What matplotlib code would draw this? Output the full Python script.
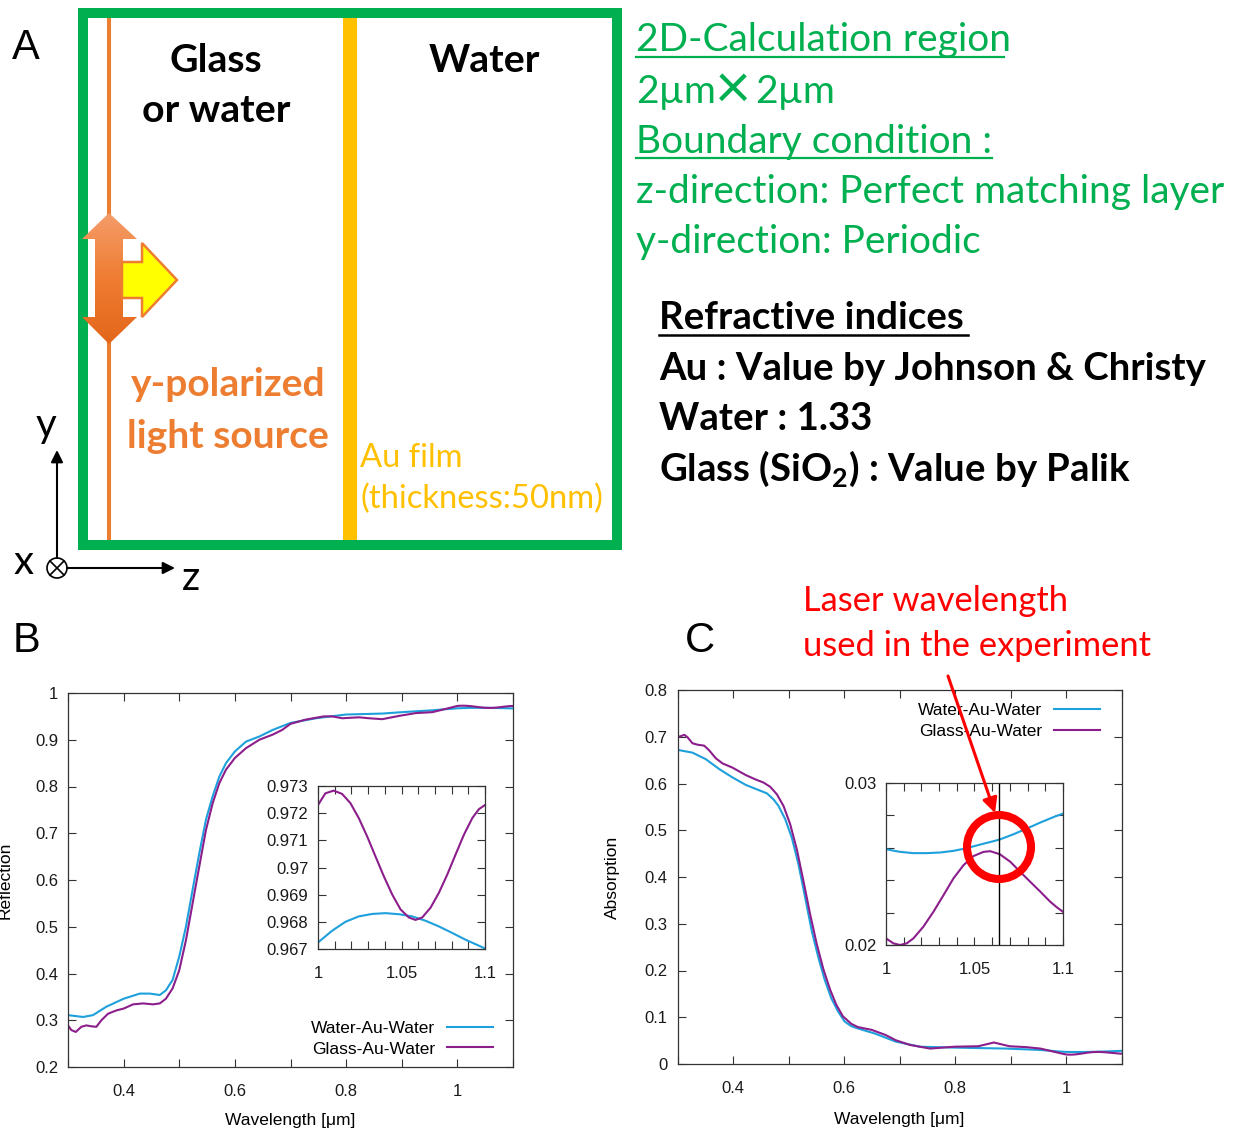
import numpy as np
import matplotlib
matplotlib.use('Agg')
import matplotlib.pyplot as plt
from matplotlib.patches import Rectangle, Polygon, Circle
from matplotlib.colors import LinearSegmentedColormap
from matplotlib.ticker import FixedLocator, MultipleLocator, FuncFormatter

plt.rcParams['font.family'] = ['Liberation Sans', 'DejaVu Sans']
plt.rcParams['mathtext.fontset'] = 'custom'
plt.rcParams['mathtext.rm'] = 'Lato'
plt.rcParams['mathtext.bf'] = 'Lato:bold'
plt.rcParams['lines.solid_joinstyle'] = 'round'

# ---- data ----
# B: reflection, main panel (0.3 - 1.0 um)
wl_refl_water = [0.3, 0.327, 0.345, 0.369, 0.4, 0.429, 0.447, 0.465, 0.476, 0.488, 0.5, 0.512,
                 0.524, 0.536, 0.548, 0.56, 0.572, 0.584, 0.6, 0.62, 0.644, 0.668, 0.7, 0.746,
                 0.8, 0.865, 0.9, 0.955, 0.98]
refl_water = [0.311, 0.307, 0.311, 0.329, 0.346, 0.357, 0.357, 0.354, 0.364, 0.386, 0.436, 0.5,
              0.579, 0.657, 0.729, 0.779, 0.821, 0.85, 0.875, 0.896, 0.907, 0.921, 0.936, 0.946,
              0.954, 0.956, 0.959, 0.963, 0.9655]
wl_refl_glass = [0.3, 0.306, 0.314, 0.324, 0.333, 0.342, 0.351, 0.36, 0.372, 0.387, 0.4, 0.417,
                 0.435, 0.453, 0.465, 0.476, 0.488, 0.5, 0.512, 0.524, 0.536, 0.548, 0.56, 0.572,
                 0.584, 0.6, 0.62, 0.644, 0.668, 0.685, 0.7, 0.727, 0.76, 0.775, 0.793, 0.823,
                 0.841, 0.865, 0.895, 0.925, 0.955, 0.979]
refl_glass = [0.289, 0.279, 0.275, 0.286, 0.289, 0.287, 0.286, 0.3, 0.314, 0.321, 0.325, 0.334,
              0.336, 0.334, 0.336, 0.346, 0.368, 0.407, 0.471, 0.55, 0.629, 0.707, 0.764, 0.807,
              0.836, 0.861, 0.882, 0.9, 0.911, 0.921, 0.934, 0.943, 0.95, 0.95, 0.946, 0.948,
              0.946, 0.944, 0.951, 0.957, 0.959, 0.966]
# B inset (1.0 - 1.1 um)
wl_ins_refl_water = [1.0, 1.0084, 1.0164, 1.0244, 1.0324, 1.0404, 1.0484, 1.0564, 1.0644, 1.0724,
                     1.0804, 1.0884, 1.0964, 1.1]
ins_refl_water = [0.96724, 0.96767, 0.96800, 0.96820, 0.96829, 0.96832, 0.96828, 0.96820,
                  0.96804, 0.96783, 0.96759, 0.96734, 0.96712, 0.96702]
wl_ins_refl_glass = [1.0, 1.0044, 1.0094, 1.0144, 1.0194, 1.0244, 1.0294, 1.0344, 1.0394, 1.0444,
                     1.0494, 1.0544, 1.0584, 1.0624, 1.0674, 1.0724, 1.0774, 1.0824, 1.0874,
                     1.0924, 1.0964, 1.1]
ins_refl_glass = [0.97230, 0.97273, 0.97283, 0.97271, 0.97237, 0.97182, 0.97115, 0.97041,
                  0.96968, 0.96901, 0.96846, 0.96816, 0.96807, 0.96816, 0.96852, 0.96907,
                  0.96974, 0.97048, 0.97121, 0.97182, 0.97215, 0.97230]

# C: absorption, main panel
wl_abs_water = [0.3, 0.327, 0.351, 0.375, 0.399, 0.423, 0.446, 0.461, 0.473, 0.482, 0.494,
                0.506, 0.518, 0.53, 0.542, 0.554, 0.565, 0.577, 0.589, 0.601, 0.613, 0.625,
                0.656, 0.693, 0.737, 0.802, 0.892, 0.954, 0.985]
abs_water = [0.672, 0.666, 0.652, 0.631, 0.613, 0.597, 0.586, 0.579, 0.566, 0.552, 0.524, 0.484,
             0.427, 0.356, 0.284, 0.227, 0.181, 0.141, 0.113, 0.091, 0.081, 0.076, 0.065, 0.048,
             0.037, 0.035, 0.033, 0.03, 0.027]
wl_abs_glass = [0.3, 0.3125, 0.318, 0.327, 0.336, 0.348, 0.357, 0.369, 0.381, 0.399, 0.423, 0.44,
                0.455, 0.467, 0.479, 0.491, 0.503, 0.515, 0.527, 0.539, 0.551, 0.563, 0.575,
                0.586, 0.598, 0.613, 0.625, 0.65, 0.675, 0.693, 0.718, 0.755, 0.799, 0.842,
                0.87, 0.898, 0.929, 0.954, 0.979]
abs_glass = [0.699, 0.704, 0.699, 0.686, 0.683, 0.681, 0.671, 0.654, 0.643, 0.634, 0.618, 0.609,
             0.602, 0.593, 0.577, 0.552, 0.513, 0.459, 0.391, 0.32, 0.256, 0.202, 0.159, 0.127,
             0.102, 0.086, 0.079, 0.073, 0.062, 0.051, 0.041, 0.033, 0.037, 0.038, 0.046, 0.038,
             0.036, 0.033, 0.026]
# C inset
wl_ins_abs_water = [1.0, 1.0079, 1.0155, 1.023, 1.0306, 1.0381, 1.0457, 1.0532, 1.0608, 1.0642,
                    1.0721, 1.0796, 1.0872, 1.0947, 1.1]
ins_abs_water = [0.02591, 0.02575, 0.02567, 0.02567, 0.02571, 0.02581, 0.02598, 0.02620,
                 0.02641, 0.02651, 0.02684, 0.02719, 0.02756, 0.02790, 0.02811]
wl_ins_abs_glass = [1.0, 1.0042, 1.0079, 1.0117, 1.0155, 1.0211, 1.0268, 1.0325, 1.0381, 1.0438,
                    1.0494, 1.0551, 1.0589, 1.0642, 1.0702, 1.0758, 1.0815, 1.0872, 1.0928,
                    1.0966, 1.1]
ins_abs_glass = [0.02041, 0.02010, 0.02000, 0.02010, 0.02041, 0.02113, 0.02205, 0.02308, 0.02411,
                 0.02493, 0.02549, 0.02575, 0.02579, 0.02561, 0.02514, 0.02452, 0.02390,
                 0.02329, 0.02267, 0.02232, 0.02205]
laser_wl = 1.064

series_labels = ['Water-Au-Water', 'Glass-Au-Water']
c_water = '#1ea0dc'
c_glass = '#8c1e8c'
frame = '#333333'

W, H = 1242, 1130
fig = plt.figure(figsize=(W / 100, H / 100), dpi=100)
renderer = fig.canvas.get_renderer()


def px_axes(l, t, r, b):
    return fig.add_axes([l / W, (H - b) / H, (r - l) / W, (b - t) / H])


gfmt = FuncFormatter(lambda v, p: '%g' % round(v, 6))


def style(ax, xpad=12, ypad=7):
    for s in ax.spines.values():
        s.set_color(frame)
        s.set_linewidth(0.9)
    ax.tick_params(which='both', direction='in', top=True, right=True, color=frame,
                   labelcolor='#1a1a1a', labelsize=12, length=6, width=0.8)
    ax.tick_params(axis='x', pad=xpad)
    ax.tick_params(axis='y', pad=ypad)
    ax.xaxis.set_major_formatter(gfmt)
    ax.yaxis.set_major_formatter(gfmt)


def main_panel(ax, ylab, labx, laby):
    ax.set_xlim(0.3, 1.1)
    ax.xaxis.set_major_locator(FixedLocator([0.4, 0.6, 0.8, 1.0]))
    ax.xaxis.set_minor_locator(MultipleLocator(0.1))
    ax.yaxis.set_major_locator(MultipleLocator(0.1))
    style(ax)
    ax.set_xlabel('Wavelength [μm]', fontsize=12.5)
    ax.xaxis.set_label_coords(0.5, laby)
    ax.set_ylabel(ylab, fontsize=12.5)
    ax.yaxis.set_label_coords(labx, 0.5)


# ---- panel B ----
axB = px_axes(68, 693, 513, 1067)
axB.plot(wl_refl_water + wl_ins_refl_water, refl_water + ins_refl_water, color=c_water, lw=1.5,
         label=series_labels[0])
axB.plot(wl_refl_glass + wl_ins_refl_glass, refl_glass + ins_refl_glass, color=c_glass, lw=1.5,
         label=series_labels[1])
axB.set_ylim(0.2, 1.0)
main_panel(axB, 'Reflection', -0.124, -0.122)
axB.legend(loc='lower right', bbox_to_anchor=(0.955, 0.028), frameon=False, markerfirst=False,
           fontsize=12.5, handlelength=2.65, handletextpad=0.7, labelspacing=0.3, borderpad=0,
           borderaxespad=0)

insB = px_axes(318, 786, 485, 949)
insB.plot(wl_ins_refl_water, ins_refl_water, color=c_water, lw=1.5)
insB.plot(wl_ins_refl_glass, ins_refl_glass, color=c_glass, lw=1.5)
insB.set_xlim(1.0, 1.1)
insB.set_ylim(0.967, 0.973)
insB.xaxis.set_major_locator(FixedLocator([1.0, 1.05, 1.1]))
insB.xaxis.set_minor_locator(MultipleLocator(0.01))
insB.yaxis.set_major_locator(FixedLocator([0.967, 0.968, 0.969, 0.970, 0.971, 0.972, 0.973]))
style(insB, xpad=12, ypad=7)

# ---- panel C ----
axC = px_axes(677.5, 690, 1121.5, 1064)
axC.plot(wl_abs_water + wl_ins_abs_water, abs_water + ins_abs_water, color=c_water, lw=1.5,
         label=series_labels[0])
axC.plot(wl_abs_glass + wl_ins_abs_glass, abs_glass + ins_abs_glass, color=c_glass, lw=1.5,
         label=series_labels[1])
axC.set_ylim(0, 0.8)
main_panel(axC, 'Absorption', -0.13, -0.128)
axC.legend(loc='upper right', bbox_to_anchor=(0.952, 0.965), frameon=False, markerfirst=False,
           fontsize=12.5, handlelength=2.65, handletextpad=0.7, labelspacing=0.3, borderpad=0,
           borderaxespad=0)

insC = px_axes(886, 783, 1063, 945)
insC.plot(wl_ins_abs_water, ins_abs_water, color=c_water, lw=1.5)
insC.plot(wl_ins_abs_glass, ins_abs_glass, color=c_glass, lw=1.5)
insC.axvline(laser_wl, color='black', lw=1)
insC.set_xlim(1.0, 1.1)
insC.set_ylim(0.02, 0.03)
insC.xaxis.set_major_locator(FixedLocator([1.0, 1.05, 1.1]))
insC.xaxis.set_minor_locator(MultipleLocator(0.01))
insC.yaxis.set_major_locator(FixedLocator([0.02, 0.03]))
insC.yaxis.set_minor_locator(MultipleLocator(0.002))
style(insC, xpad=12, ypad=7)

# ---- overlay in pixel coordinates (diagram + text) ----
ov = fig.add_axes([0, 0, 1, 1], zorder=10)
ov.patch.set_alpha(0)
ov.axis('off')

green = '#00b050'
orange = '#ed7d31'
gold = '#ffc000'
LATO = ['Lato', 'DejaVu Sans']


def fit_size(s, width, **kw):
    t = fig.text(0, 0, s, fontsize=20, **kw)
    w = t.get_window_extent(renderer).width
    t.remove()
    return 20 * width / w


# calculation box
ov.add_patch(Rectangle((83, 13), 534, 532, fill=False, edgecolor=green, lw=7.2,
                       joinstyle='miter', zorder=2))
ov.plot([109, 109], [18, 540], color=orange, lw=2.9, zorder=1)
ov.add_patch(Rectangle((343, 18), 14, 522, color=gold, lw=0, zorder=1))

# light source arrows
dbl = [(109, 213), (137, 239), (123, 239), (123, 317), (137, 317), (109, 344), (82, 317),
       (95, 317), (95, 239), (82, 239)]
clip = Polygon(dbl, closed=True, facecolor='none', edgecolor='none', zorder=4)
ov.add_patch(clip)
ocmap = LinearSegmentedColormap.from_list('o', ['#f49d6b', '#ef7c32', '#e2661a'])
im = ov.imshow(np.linspace(0, 1, 100).reshape(-1, 1), extent=(80, 140, 346, 211), cmap=ocmap,
               aspect='auto', zorder=4)
im.set_clip_path(clip)
yel = [(122, 262), (142, 262), (142, 243), (177, 280), (142, 317), (142, 298), (122, 298)]
ov.add_patch(Polygon(yel, closed=True, facecolor='#ffff00', edgecolor=orange, lw=1.8, zorder=5))

# coordinate system
ov.annotate('', xy=(57, 450), xytext=(57, 558),
            arrowprops=dict(arrowstyle='-|>', color='black', lw=1.5, mutation_scale=18,
                            shrinkA=0, shrinkB=0))
ov.annotate('', xy=(175, 568), xytext=(67, 568),
            arrowprops=dict(arrowstyle='-|>', color='black', lw=1.5, mutation_scale=18,
                            shrinkA=0, shrinkB=0))
ov.add_patch(Circle((57, 568), 10, fill=False, edgecolor='black', lw=1.2))
d = 7
ov.plot([57 - d, 57 + d], [568 - d, 568 + d], color='black', lw=1.2)
ov.plot([57 - d, 57 + d], [568 + d, 568 - d], color='black', lw=1.2)
ov.text(46, 426, 'y', fontsize=29, family=LATO, ha='center', va='center')
ov.text(24, 562, 'x', fontsize=29, family=LATO, ha='center', va='center')
ov.text(191, 578, 'z', fontsize=29, family=LATO, ha='center', va='center')

# panel labels
for lab, x, y in [('A', 26, 48), ('B', 26, 641), ('C', 700, 641)]:
    ov.text(x, y, lab, fontsize=30, ha='center', va='center')

# labels inside the box
fs_a = fit_size('or water', 148, family=LATO, weight='bold')
ov.text(216, 60, 'Glass', fontsize=fs_a, family=LATO, weight='bold', ha='center', va='center')
ov.text(216, 111, 'or water', fontsize=fs_a, family=LATO, weight='bold', ha='center', va='center')
ov.text(484, 60, 'Water', fontsize=fs_a, family=LATO, weight='bold', ha='center', va='center')
fs_y = fit_size('light source', 202, family=LATO, weight='bold')
ov.text(228, 385, 'y-polarized', fontsize=fs_y, family=LATO, weight='bold', color=orange,
        ha='center', va='center')
ov.text(228, 436, 'light source', fontsize=fs_y, family=LATO, weight='bold', color=orange,
        ha='center', va='center')
fs_au = fit_size('(thickness:50nm)', 244, family=LATO)
ov.text(360, 458, 'Au film', fontsize=fs_au, family=LATO, color=gold, ha='left', va='center')
ov.text(360, 499, '(thickness:50nm)', fontsize=fs_au, family=LATO, color=gold, ha='left',
        va='center')

# calculation settings (green)
fs_g = fit_size('z-direction: Perfect matching layer', 590, family=LATO)
ov.text(636, 40, '2D-Calculation region', fontsize=fs_g, family=LATO, color=green, va='center')
ov.plot([636, 1004], [57, 57], color=green, lw=1.6)
ov.text(636, 92, '2µm', fontsize=fs_g, family=LATO, color=green, va='center')
ov.text(733, 90, '×', fontsize=fs_g * 1.6, family=LATO, color=green, ha='center', va='center')
ov.text(755, 92, '2µm', fontsize=fs_g, family=LATO, color=green, va='center')
ov.text(636, 142, 'Boundary condition :', fontsize=fs_g, family=LATO, color=green, va='center')
ov.plot([636, 992], [158, 158], color=green, lw=1.6)
ov.text(636, 192, 'z-direction: Perfect matching layer', fontsize=fs_g, family=LATO,
        color=green, va='center')
ov.text(636, 242, 'y-direction: Periodic', fontsize=fs_g, family=LATO, color=green, va='center')

# refractive indices (black, bold)
fs_k = fit_size('Au : Value by Johnson & Christy', 546, family=LATO, weight='bold')
ov.text(659, 318, 'Refractive indices', fontsize=fs_k, family=LATO, weight='bold', va='center')
ov.plot([659, 968], [335, 335], color='black', lw=1.8)
ov.text(659, 369, 'Au : Value by Johnson & Christy', fontsize=fs_k, family=LATO, weight='bold',
        va='center')
ov.text(659, 419, 'Water : 1.33', fontsize=fs_k, family=LATO, weight='bold', va='center')
ov.text(659, 469, r'Glass (SiO$_\mathbf{2}$) : Value by Palik', fontsize=fs_k, family=LATO,
        weight='bold', va='center')

# laser annotation
fs_r = fit_size('used in the experiment', 350, family=LATO)
ov.text(803, 601, 'Laser wavelength', fontsize=fs_r, family=LATO, color='red', va='center')
ov.text(803, 646, 'used in the experiment', fontsize=fs_r, family=LATO, color='red', va='center')
ov.annotate('', xy=(995, 813), xytext=(948, 676),
            arrowprops=dict(arrowstyle='-|>', color='red', lw=2.2, mutation_scale=22,
                            shrinkA=0, shrinkB=0))
ov.add_patch(Circle((999, 847), 32, fill=False, edgecolor='red', lw=5.8))

ov.set_xlim(0, W)
ov.set_ylim(H, 0)

fig.savefig('out.png', dpi=100)
